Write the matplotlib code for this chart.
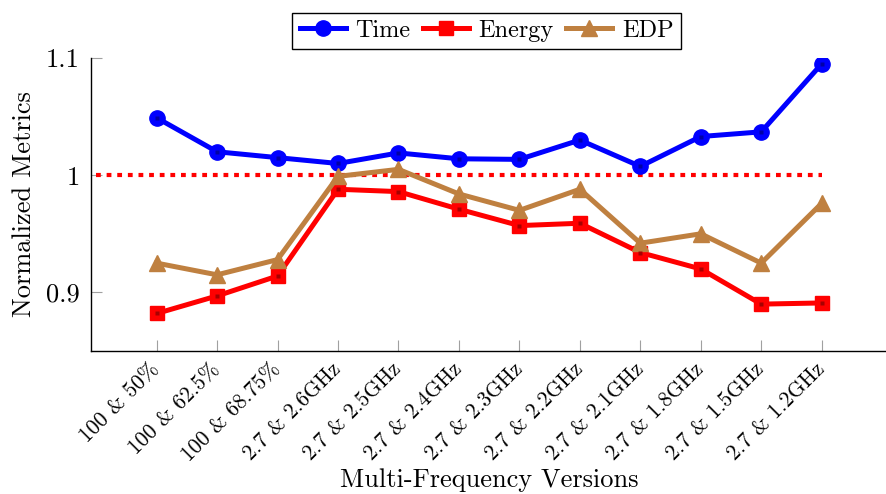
import matplotlib
matplotlib.use("Agg")
import matplotlib.pyplot as plt
from matplotlib.transforms import ScaledTranslation

plt.rcParams['font.family'] = ['cmr10', 'DejaVu Serif']
plt.rcParams['axes.formatter.use_mathtext'] = True
plt.rcParams['mathtext.fontset'] = 'cm'

categories = ["100 & 50%", "100 & 62.5%", "100 & 68.75%", "2.7 & 2.6GHz", "2.7 & 2.5GHz",
              "2.7 & 2.4GHz", "2.7 & 2.3GHz", "2.7 & 2.2GHz", "2.7 & 2.1GHz", "2.7 & 1.8GHz",
              "2.7 & 1.5GHz", "2.7 & 1.2GHz"]
time_vals = [1.049, 1.020, 1.015, 1.010, 1.019, 1.014, 1.0135, 1.030, 1.0075, 1.033, 1.037, 1.095]
energy_vals = [0.882, 0.897, 0.914, 0.988, 0.986, 0.971, 0.957, 0.959, 0.934, 0.920, 0.890, 0.891]
edp_vals = [0.925, 0.915, 0.928, 0.999, 1.005, 0.984, 0.970, 0.988, 0.942, 0.950, 0.925, 0.976]
ref_x = [-1, 11]
ref_y = [1.0, 1.0]
yticks = [0.9, 1.0, 1.1]
yticklabels = ["0.9", "1", "1.1"]

fig = plt.figure(figsize=(8.86, 4.94), dpi=100)
ax = fig.add_axes([91/886, 1 - 351/494, (887 - 91)/886, (351 - 58)/494])

x = list(range(len(categories)))
blue = '#0000ff'
red = '#ff0000'
brown = '#bf8040'

ax.plot(ref_x, ref_y, color=red, lw=3.0, linestyle=(0, (1.15, 1.4)), dash_capstyle='butt', zorder=2)

ax.plot(x, time_vals, color=blue, lw=3.6, marker='o', ms=11, mec=blue, mfc=blue, label='Time', zorder=3)
ax.plot(x, energy_vals, color=red, lw=3.6, marker='s', ms=10.5, mec=red, mfc=red, label='Energy', zorder=3)
ax.plot(x, edp_vals, color=brown, lw=3.6, marker='^', ms=12, mec=brown, mfc=brown, label='EDP', zorder=3)
# darker mark centres
ax.plot(x, time_vals, ls='none', marker='s', ms=2.5, mfc='#0000a8', mec='none', zorder=4)
ax.plot(x, energy_vals, ls='none', marker='s', ms=2.5, mfc='#a80000', mec='none', zorder=4)

ax.set_xlim(-1.085, 12.08)
ax.set_ylim(0.85, 1.1)
ax.set_xticks(x)
ax.set_xticklabels(categories, rotation=45, ha='right', va='center', rotation_mode='anchor', fontsize=15.5)
offset = ScaledTranslation(5/100, 0, fig.dpi_scale_trans)
for lbl in ax.get_xticklabels():
    lbl.set_transform(lbl.get_transform() + offset)
ax.set_yticks(yticks)
ax.set_yticklabels(yticklabels, fontsize=19)

for s in ['top', 'right']:
    ax.spines[s].set_visible(False)
for s in ['left', 'bottom']:
    ax.spines[s].set_linewidth(1.0)
    ax.spines[s].set_color('black')

ax.tick_params(axis='both', direction='in', length=8, width=0.8, color='#a0a0a0')
ax.tick_params(axis='x', pad=11)
ax.tick_params(axis='y', pad=8)

ax.set_xlabel('Multi-Frequency Versions', fontsize=19, va='center')
ax.xaxis.set_label_coords(0.5, (351 - 480) / 293)
ax.set_ylabel('Normalized Metrics', fontsize=19, labelpad=7)

leg = ax.legend(loc='lower center', bbox_to_anchor=(0.497, 1.03), ncol=3, fontsize=17.5,
                frameon=True, fancybox=False, edgecolor='black', framealpha=1,
                handlelength=1.9, handletextpad=0.4, columnspacing=0.5, borderpad=0.3,
                borderaxespad=0)
leg.get_frame().set_linewidth(1.0)

fig.savefig('out.png', dpi=100)
